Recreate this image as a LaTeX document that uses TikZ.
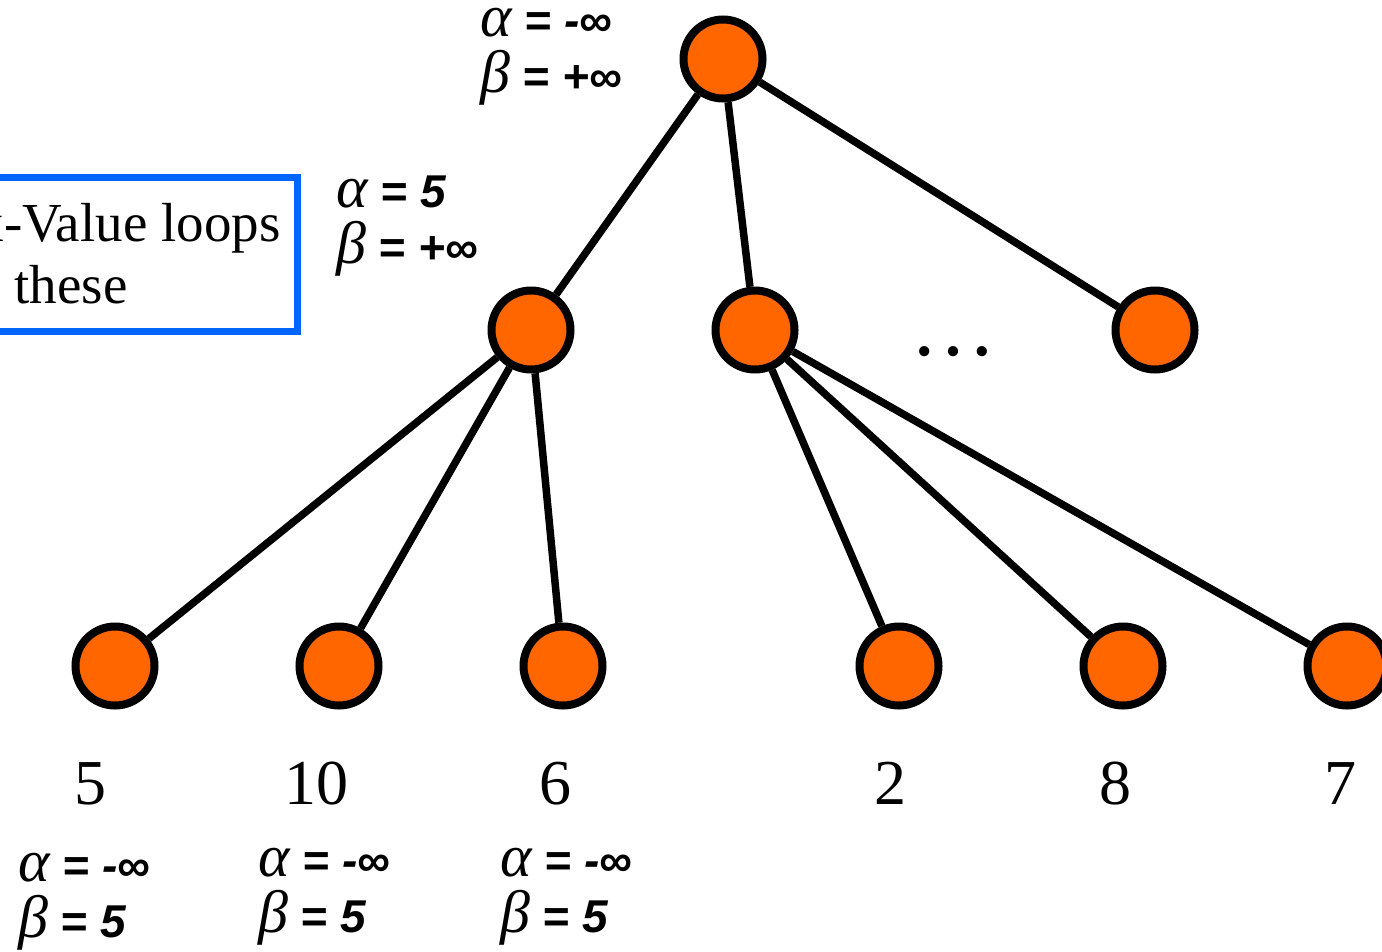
\documentclass[tikz,border=0pt]{standalone}
\usepackage{fontspec}
\setmainfont{Liberation Serif}
\newfontfamily\absans{Liberation Sans}
\usetikzlibrary{positioning}
\definecolor{nodeorange}{HTML}{FF6600}
\definecolor{boxblue}{HTML}{0066FF}
\newcommand{\grk}[1]{{\rmfamily\mdseries\itshape\fontsize{60}{56}\selectfont #1}}
\tikzset{
  treenode/.style={circle,draw=black,fill=nodeorange,line width=8pt,
                   minimum size=79pt,inner sep=0pt},
  branch/.style={line width=7.5pt},
  bounds/.style={font=\absans\bfseries\itshape\fontsize{46}{56}\selectfont,
                 align=left,inner sep=0pt,anchor=base west},
  leafval/.style={font=\fontsize{64}{64}\selectfont,inner sep=0pt,anchor=base},
  notebox/.style={draw=boxblue,line width=7pt,align=left,
                  font=\fontsize{55}{62}\selectfont,inner xsep=17pt,
                  minimum height=154pt,anchor=east}
}
\begin{document}
\begin{tikzpicture}[x=1pt,y=-1pt]
  \useasboundingbox (0,0) rectangle (1382,951);
  \clip (0,0) rectangle (1382,951);

  \node[treenode] (root) at (723,59) {};
  \node[treenode] (maxa) at (531,330) {};
  \node[treenode] (maxb) at (755,330) {};
  \node[treenode] (maxc) at (1155,330) {};
  \foreach \n/\x in {1/115,2/339,3/563,4/899,5/1123,6/1347} {
    \node[treenode] (leaf\n) at (\x,666) {};
  }

  \foreach \c in {maxa,maxb,maxc} {
    \draw[branch] (root) -- (\c);
  }
  \foreach \n in {1,2,3} {
    \draw[branch] (maxa) -- (leaf\n);
  }
  \foreach \n in {4,5,6} {
    \draw[branch] (maxb) -- (leaf\n);
  }

  \node[font=\fontsize{86}{86}\selectfont,inner sep=0pt] (more) at (953,352) {…};

  \foreach \n/\x/\v in {1/90/5,2/316/10,3/555/6,4/890/2,5/1115/8,6/1340/7} {
    \node[leafval] (val\n) at (\x,804) {\v};
  }

  \node[bounds] (rootab) at (480,92) {\grk{α} = -∞\\\grk{β} = +∞};
  \node[bounds] (maxaab) at (336,263) {\grk{α} = 5\\\grk{β} = +∞};
  \node[bounds] (leafab1) at (18,937) {\grk{α} = -∞\\\grk{β} = 5};
  \node[bounds] (leafab2) at (258,932) {\grk{α} = -∞\\\grk{β} = 5};
  \node[bounds] (leafab3) at (500,932) {\grk{α} = -∞\\\grk{β} = 5};

  \node[notebox] (note) at (301,254) {Max-Value loops\\over these};
\end{tikzpicture}
\end{document}
